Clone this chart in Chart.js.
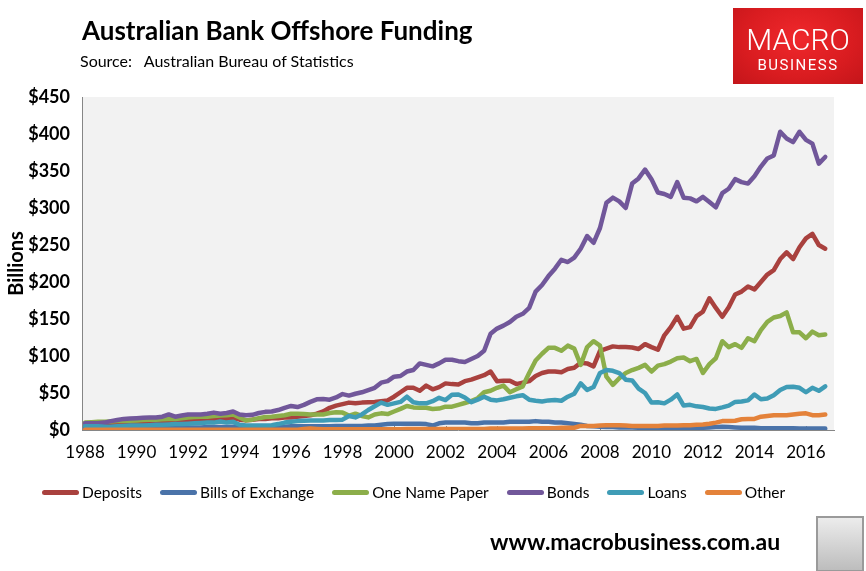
<!DOCTYPE html>
<html>
<head>
<meta charset="utf-8">
<script src="https://cdn.jsdelivr.net/npm/chart.js@4.4.0/dist/chart.umd.min.js"></script>
<style>
  body { margin: 0; background: #fff; }
  #wrap { position: relative; width: 866px; height: 571px; overflow: hidden;
          font-family: Lato, sans-serif; color: #000; }
  #chart { position: absolute; left: 0; top: 0; }
  .title { position: absolute; left: 82px; top: 14px; font-size: 26px; font-weight: bold; white-space: nowrap; }
  .source { position: absolute; left: 80px; top: 51px; font-size: 16px; white-space: nowrap; }
  .logo { position: absolute; left: 733px; top: 8px; width: 130px; height: 76px;
          background: radial-gradient(ellipse at 50% 40%, #f0282c 0%, #d91c20 60%, #c3151a 100%);
          color: #fff; text-align: center; font-family: Roboto, sans-serif; }
  .logo .m { position: absolute; left: 0; right: 0; top: 14px; font-size: 30px; font-weight: 300; }
  .logo .b { position: absolute; left: 0; right: 0; top: 48px; font-size: 15px; letter-spacing: 1.5px; }
  .legend { position: absolute; left: 42px; top: 483px; display: flex; font-size: 15.5px; white-space: nowrap; }
  .legend .item { display: flex; align-items: center; margin-right: 18px; }
  .legend .mark { width: 37px; height: 5px; border-radius: 3px; margin-right: 3px; }
  .url { position: absolute; left: 490px; top: 527px; font-size: 23px; font-weight: bold; white-space: nowrap; }
  .wolf { position: absolute; left: 816px; top: 516px; width: 44px; height: 52px;
          border: 2px solid #9a9a9a; background: linear-gradient(#ececec, #bdbdbd); }
</style>
</head>
<body>
<div id="wrap">
  <canvas id="chart" width="866" height="571"></canvas>
  <div class="title">Australian Bank Offshore Funding</div>
  <div class="source">Source:&nbsp;&nbsp; Australian Bureau of Statistics</div>
  <div class="logo"><div class="m">MACRO</div><div class="b">BUSINESS</div></div>
  <div class="legend" id="legend"></div>
  <div class="url">www.macrobusiness.com.au</div>
  <div class="wolf"></div>
</div>
<script>
// quarterly series, $ billions, first quarter 1988
const firstYear = 1988;

const deposits = [
  5, 5, 6, 7, 8, 8, 9, 10, 10, 10,
  11, 11, 12, 12, 12, 13, 13, 13, 14, 14,
  15, 15, 15, 16, 14, 13, 14, 15, 15, 16,
  16, 17, 17, 18, 19, 20, 22, 25, 30, 33,
  35, 37, 36, 37, 37.5, 38, 39, 40, 45, 51,
  57, 57, 53, 60, 55, 58, 63, 62, 61.5, 66,
  68, 71, 74, 79, 66, 66.5, 66.5, 62, 64, 66,
  73, 77, 79, 79, 78, 82.5, 84, 91, 90, 86,
  107, 110, 113, 112, 112, 111.5, 109.5, 116, 112, 108.5,
  128, 139, 153, 137, 139, 154, 160, 178, 165, 153,
  166, 183, 187, 194, 190, 200, 210, 216, 231, 240,
  231, 247, 259, 265, 250, 245
];

const bills = [
  3, 3, 3, 3, 3, 3, 3, 3, 3, 3,
  3, 3.5, 3.5, 3.5, 3.5, 3.5, 3.5, 3.5, 3.5, 4,
  4, 4, 4, 4.5, 4, 4, 4, 4, 4, 4,
  4.5, 4.5, 5, 5, 5, 5, 5, 5, 5, 5.5,
  5.5, 5.5, 5.5, 5.5, 6, 6, 7, 8, 8.5, 8.5,
  8.5, 8.5, 8.5, 8, 6, 9, 10, 10, 10, 10,
  9, 9, 10, 10, 10, 10, 11, 11, 11, 11,
  12, 11, 11, 10, 10, 9, 8, 7, 5.5, 5,
  4.5, 4, 4, 3.5, 3.5, 3.5, 3, 3, 3, 3,
  3, 3, 3, 3, 3, 3, 3, 3.5, 4, 4.5,
  4, 3.5, 3, 3, 3, 2.5, 2.5, 2.5, 2.5, 2.5,
  2.5, 2, 2, 2, 2, 2
];

const oneNamePaper = [
  10, 10.5, 11, 11, 11.5, 12, 12, 12.5, 13, 13.5,
  14, 14, 14.5, 15, 15, 16, 17, 17.5, 18, 18,
  19, 19.5, 20, 21, 17, 13, 14, 16, 17.5, 18,
  19, 20, 22, 22, 21.5, 21, 21, 21, 23, 24,
  23.5, 19.5, 22, 19, 17, 21, 22.5, 21.5, 25, 28.5,
  32.5, 30.5, 30, 30, 28.5, 29, 31.5, 31.5, 34, 36.5,
  39, 43, 51, 53, 57, 60, 51, 55, 59, 77,
  94, 103, 111, 111, 107, 114, 110, 88, 112, 120,
  114, 72, 61, 70, 77, 81, 84, 88, 79, 87,
  89, 92.5, 97, 98, 93, 96, 77, 89, 97, 120,
  112, 116, 111, 124, 120, 135, 146, 152, 154, 159,
  132, 132, 124, 133, 128, 129
];

const bonds = [
  9, 9, 9, 10, 12, 13.5, 15, 15.5, 16, 16.5,
  17, 17, 18, 21, 18, 19.5, 21, 21, 21, 22,
  23.5, 22, 23, 25, 21, 20, 20.5, 23, 24.5, 25,
  27, 30, 32.5, 31, 34, 38, 41.5, 42, 41, 44,
  48.5, 46.5, 49, 51, 54, 57, 64, 66, 72, 73,
  79, 81, 90, 88, 86, 90, 95, 95, 93, 92,
  96, 100, 107, 130, 137, 141, 146, 153, 157, 165,
  187, 196, 208, 218, 230, 227, 233, 245, 262, 253,
  273, 307, 314, 309, 300, 333, 340, 352, 339, 321,
  319, 315, 335, 314, 313, 309, 315, 308, 301, 320,
  326, 339, 335, 333, 343, 356, 367, 371, 403, 394,
  389, 403, 392, 387, 360, 369
];

const loans = [
  5, 5, 5, 4.5, 4.5, 5, 5.5, 6, 6, 6,
  6.5, 7, 7, 7.5, 8, 8, 8.5, 9, 9.5, 10,
  10, 11.5, 10, 11, 7, 6, 6, 6, 6, 6.5,
  8, 10, 11, 12, 12.5, 13, 13, 13, 13.5, 13.5,
  14, 19, 17, 21, 27, 32, 37, 34, 36, 38,
  45, 37.5, 36, 36, 39, 43.5, 40.5, 47.5, 48, 44,
  37.5, 41, 45, 41, 40, 41.5, 43.5, 45.5, 47, 41,
  39.5, 38.5, 40, 40.5, 39.5, 45, 49, 63, 54, 58,
  77, 81, 80, 77, 68, 67, 56, 50, 37, 37.5,
  36, 41, 48, 33, 34, 32, 31, 29, 28.5, 30.5,
  33, 38, 38.5, 40, 48, 41.5, 42.5, 47, 54, 58,
  58.5, 57, 51, 57, 53, 59
];

const other = [
  0.5, 0.5, 0.5, 0.5, 0.5, 0.5, 0.5, 0.5, 0.5, 0.5,
  0.5, 0.5, 0.5, 0.5, 0.5, 0.5, 0.5, 0.5, 0.5, 0.5,
  0.5, 0.5, 0.5, 0.5, 0.5, 0.5, 0.5, 0.5, 0.5, 0.5,
  0.5, 0.5, 0.5, 0.5, 1.5, 2, 1.5, 1, 1, 1,
  1, 1, 1, 1, 1, 1, 1, 1, 1, 1,
  1.5, 1.5, 1.5, 1.5, 1.5, 1.5, 1.5, 1.5, 1.5, 1.5,
  1.5, 1.5, 1.5, 2, 2, 2, 2, 2, 2, 2.5,
  2.5, 2.5, 2.5, 2.5, 3, 3, 3, 5.5, 5.5, 5.5,
  6, 6.5, 6.5, 6.5, 6, 5.5, 5.5, 5.5, 5.5, 5.5,
  6, 6, 6, 6.5, 6.5, 7, 7.5, 8.5, 10, 12,
  12, 12.5, 14.5, 15, 15, 18, 19, 20, 20, 20,
  21, 22, 22.5, 20, 20, 21
];

const seriesNames = ["Deposits", "Bills of Exchange", "One Name Paper", "Bonds", "Loans", "Other"];
const seriesColors = ["#a9413e", "#4a73a9", "#8cae4a", "#71579a", "#3f9cb6", "#e4823a"];
const yearTicks = [1988, 1990, 1992, 1994, 1996, 1998, 2000, 2002, 2004, 2006, 2008, 2010, 2012, 2014, 2016];

const allSeries = [deposits, bills, oneNamePaper, bonds, loans, other];

// x = decimal year of each quarter
function toPoints(vals) {
  return vals.map((v, i) => ({ x: firstYear + i / 4, y: v }));
}

// grey plot area + little inward year ticks like the excel original
const plotBg = {
  id: "plotBg",
  beforeDraw(chart) {
    const a = chart.chartArea, ctx = chart.ctx;
    ctx.save();
    ctx.fillStyle = "#f2f2f2";
    ctx.fillRect(a.left, a.top, a.right - a.left, a.bottom - a.top);
    ctx.restore();
  },
  beforeDatasetsDraw(chart) {
    const a = chart.chartArea, ctx = chart.ctx, xs = chart.scales.x;
    ctx.save();
    ctx.strokeStyle = "#868686";
    ctx.lineWidth = 1;
    yearTicks.forEach(y => {
      const px = Math.round(xs.getPixelForValue(y)) + 0.5;
      ctx.beginPath();
      ctx.moveTo(px, a.bottom);
      ctx.lineTo(px, a.bottom - 4);
      ctx.stroke();
    });
    ctx.restore();
  }
};

const fontFam = "Lato, sans-serif";

new Chart(document.getElementById("chart"), {
  type: "line",
  data: {
    datasets: allSeries.map((vals, i) => ({
      label: seriesNames[i],
      data: toPoints(vals),
      borderColor: seriesColors[i],
      backgroundColor: seriesColors[i],
      borderWidth: 4.5,
      borderJoinStyle: "round",
      borderCapStyle: "round",
      pointRadius: 0,
      tension: 0,
      // excel draws the later series on top
      order: allSeries.length - i
    }))
  },
  options: {
    responsive: false,
    animation: false,
    layout: { padding: { left: 0, top: 97, right: 32, bottom: 101 } },
    plugins: { legend: { display: false }, tooltip: { enabled: false } },
    scales: {
      x: {
        type: "linear",
        min: 1987.88,
        max: 2017.09,
        afterFit: s => { s.height = 40; },
        afterBuildTicks: s => { s.ticks = yearTicks.map(v => ({ value: v })); },
        grid: { display: false, drawTicks: false },
        border: { display: true, color: "#868686", width: 1 },
        ticks: { padding: 12, maxRotation: 0, autoSkip: false, color: "#000",
                 font: { family: fontFam, size: 17 }, callback: v => String(v) }
      },
      y: {
        min: 0,
        max: 450,
        afterFit: s => { s.width = 82; },
        grid: { display: false, drawTicks: false },
        border: { display: true, color: "#868686", width: 1 },
        ticks: { stepSize: 50, padding: 12, color: "#000",
                 font: { family: fontFam, size: 18, weight: "bold" }, callback: v => "$" + v },
        title: { display: true, text: "Billions", color: "#000", padding: { top: 5, bottom: 0 },
                 font: { family: fontFam, size: 20, weight: "bold" } }
      }
    }
  },
  plugins: [plotBg]
});

// legend in the same order as the series
const legend = document.getElementById("legend");
seriesNames.forEach((name, i) => {
  const item = document.createElement("div");
  item.className = "item";
  item.innerHTML = '<span class="mark" style="background:' + seriesColors[i] + '"></span><span>' + name + "</span>";
  legend.appendChild(item);
});
</script>
</body>
</html>
